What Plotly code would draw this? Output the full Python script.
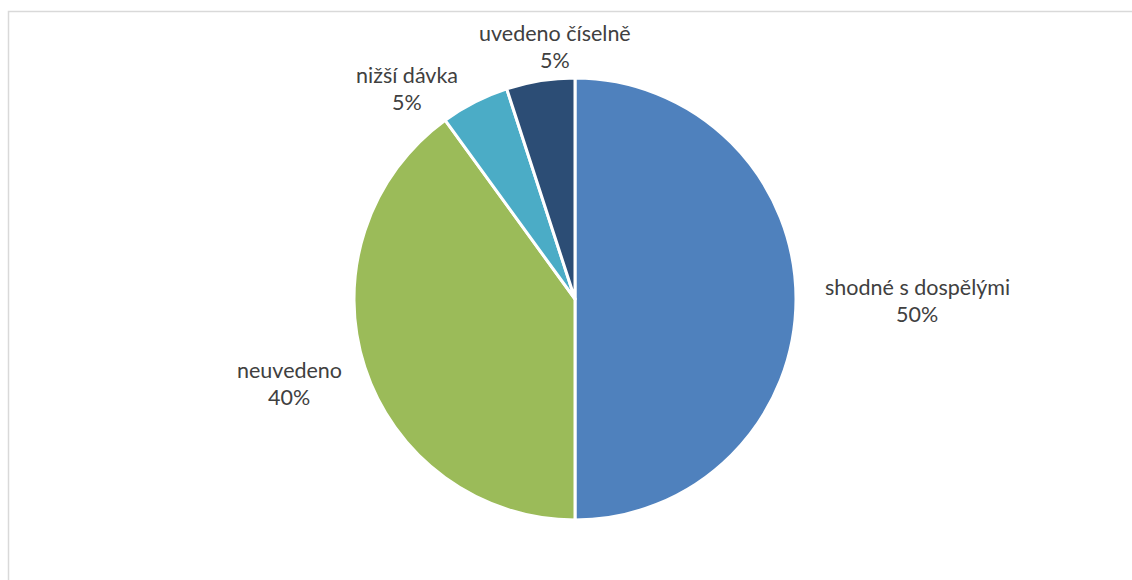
import math
import plotly.graph_objects as go

# Dosing categories and their shares (%)
categories = ["shodné s dospělými", "neuvedeno", "nižší dávka", "uvedeno číselně"]
shares = [50, 40, 5, 5]
colors = ["#4F81BD", "#9BBB59", "#4BACC6", "#2C4D75"]

W, H = 1132, 580
cx, cy, r = 575, 299, 221  # pie centre and radius in px

fig = go.Figure(go.Pie(
    labels=categories,
    values=shares,
    sort=False,
    direction="clockwise",
    rotation=0,
    marker=dict(colors=colors, line=dict(color="white", width=3)),
    textinfo="none",
    hoverinfo="label+percent",
    domain=dict(x=[(cx - r) / W, (cx + r) / W], y=[(H - cy - r) / H, (H - cy + r) / H]),
    showlegend=False,
))

# label centres in px (x, y from top)
label_pos = [(917, 300), (289, 383), (407, 88), (555, 46)]
total = sum(shares)
font = dict(family="Lato", size=21.5, color="#404040")
for name, val, (lx, ly) in zip(categories, shares, label_pos):
    pct = f"{round(100 * val / total)}%"
    fig.add_annotation(x=lx / W, y=1 - (ly - 13) / H, xref="paper", yref="paper",
                       text=name, showarrow=False, xanchor="center", yanchor="middle",
                       font=font)
    fig.add_annotation(x=lx / W, y=1 - (ly + 14) / H, xref="paper", yref="paper",
                       text=pct, showarrow=False, xanchor="center", yanchor="middle",
                       font=font)

# chart area frame
fig.add_shape(type="rect", xref="paper", yref="paper",
              x0=8.5 / W, x1=1.05, y0=-0.05, y1=1 - 11.5 / H,
              line=dict(color="#D9D9D9", width=1.5), fillcolor="rgba(0,0,0,0)")

fig.update_layout(width=W, height=H, margin=dict(l=0, r=0, t=0, b=0),
                  paper_bgcolor="white", plot_bgcolor="white")
fig.write_html("out.html")
